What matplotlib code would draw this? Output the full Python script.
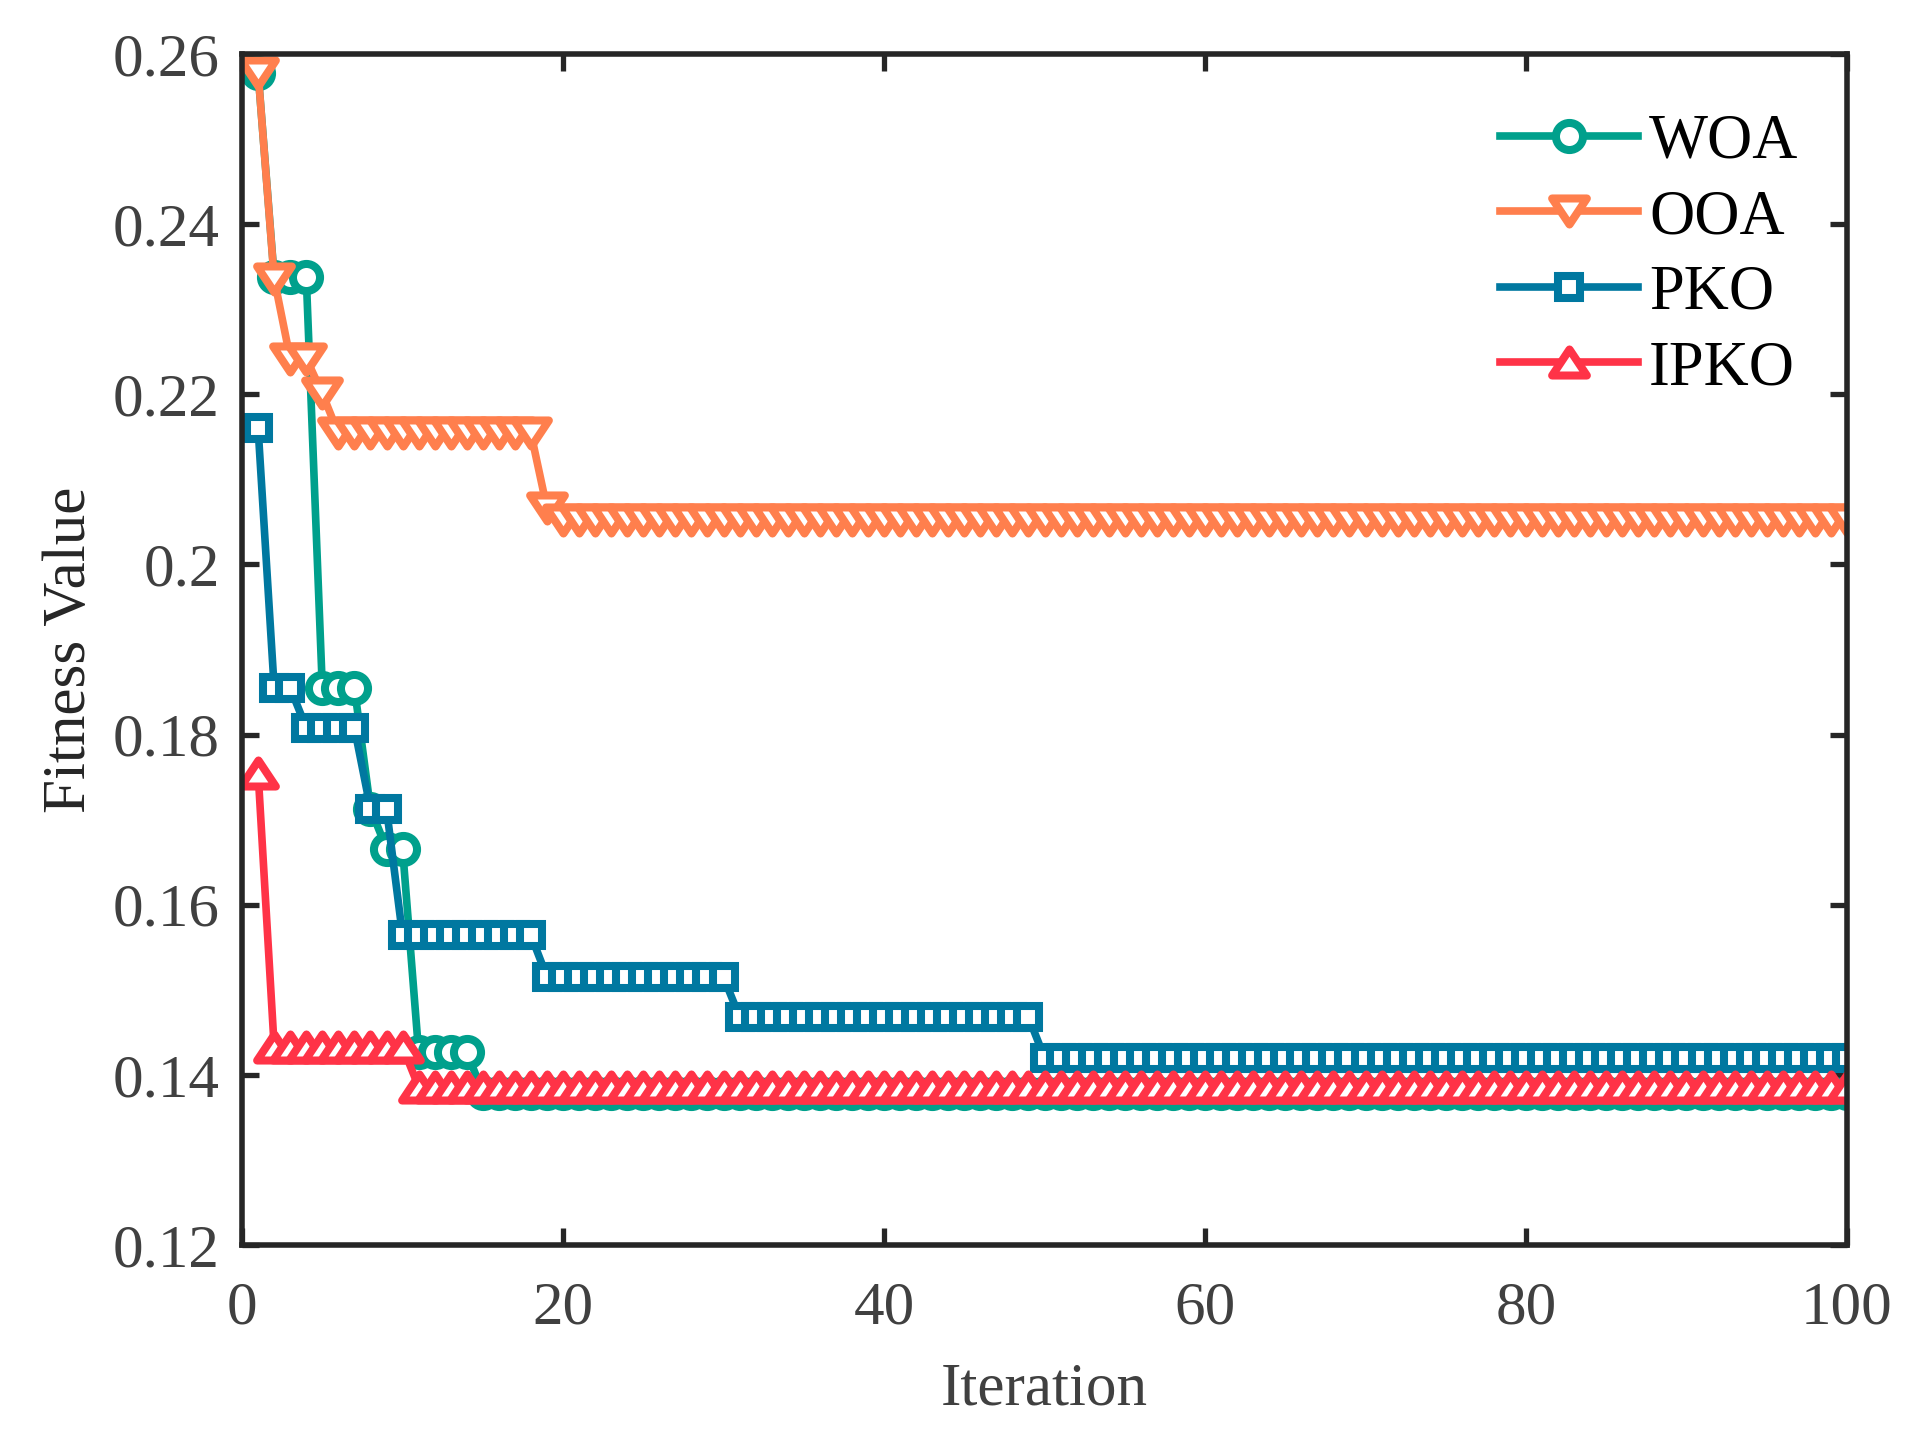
import numpy as np
import matplotlib
matplotlib.use("Agg")
import matplotlib.pyplot as plt
from matplotlib.path import Path

# iterations 1..100, step curves read as (level, number of iterations)
iterations = np.arange(1, 101)

woa_levels = [0.2578, 0.2338, 0.1855, 0.1713, 0.1666, 0.1427, 0.1379]
woa_runs = [1, 3, 3, 1, 2, 4, 86]

ooa_levels = [0.2578, 0.2336, 0.2242, 0.2201, 0.2154, 0.2066, 0.2052]
ooa_runs = [1, 1, 2, 1, 13, 1, 81]

pko_levels = [0.2160, 0.1855, 0.1808, 0.1713, 0.1564, 0.1515, 0.1468, 0.1420]
pko_runs = [1, 2, 4, 2, 9, 12, 19, 51]

ipko_levels = [0.1755, 0.1433, 0.1386]
ipko_runs = [1, 9, 90]

names = ["WOA", "OOA", "PKO", "IPKO"]
colors = ["#00A08C", "#FF7F4D", "#0078A0", "#FF3347"]

y_ticks = [0.12, 0.14, 0.16, 0.18, 0.2, 0.22, 0.24, 0.26]
y_tick_labels = ["0.12", "0.14", "0.16", "0.18", "0.2", "0.22", "0.24", "0.26"]
x_ticks = [0, 20, 40, 60, 80, 100]

woa = np.repeat(woa_levels, woa_runs)
ooa = np.repeat(ooa_levels, ooa_runs)
pko = np.repeat(pko_levels, pko_runs)
ipko = np.repeat(ipko_levels, ipko_runs)

# wide triangles like MATLAB's
tri_down = Path([(-1, 0.75), (1, 0.75), (0, -0.75), (-1, 0.75)],
                [Path.MOVETO, Path.LINETO, Path.LINETO, Path.CLOSEPOLY])
tri_up = Path([(-1, -0.75), (1, -0.75), (0, 0.75), (-1, -0.75)],
              [Path.MOVETO, Path.LINETO, Path.LINETO, Path.CLOSEPOLY])

plt.rcParams['font.family'] = ['Liberation Serif', 'DejaVu Serif']

fig = plt.figure(figsize=(19.12, 14.32), dpi=100)
ax = fig.add_axes([0.1266, 0.1306, 0.8394, 0.8317])

lw = 5.5
mew = 5.8
series = [woa, ooa, pko, ipko]
markers = ["o", tri_down, "s", tri_up]
sizes = [19.5, 25, 15.5, 25]
for vals, name, c, m, ms in zip(series, names, colors, markers, sizes):
    ax.plot(iterations, vals, color=c, lw=lw, marker=m, ms=ms, mew=mew,
            mfc="white", mec=c, label=name)

ax.set_xlim(0, 100)
ax.set_ylim(0.12, 0.26)
ax.set_xticks(x_ticks)
ax.set_yticks(y_ticks)
ax.set_yticklabels(y_tick_labels)

for s in ax.spines.values():
    s.set_linewidth(4)
    s.set_color("#262626")

ax.tick_params(direction="in", length=12, width=3.8, color="#262626",
               labelcolor="#404040", labelsize=44, top=True, right=True)
ax.tick_params(axis="x", pad=26)
ax.tick_params(axis="y", pad=16)

ax.set_xlabel("Iteration", fontsize=44, color="#404040")
ax.set_ylabel("Fitness Value", fontsize=44, color="#262626")
ax.xaxis.set_label_coords(0.5, -0.098)
ax.yaxis.set_label_coords(-0.0897, 0.5)

ax.legend(loc="upper left", bbox_to_anchor=(0.784, 0.950), frameon=False,
          fontsize=45, handlelength=2.2, handletextpad=0.18, labelspacing=0.28,
          borderpad=0, borderaxespad=0, numpoints=1)

plt.savefig("out.png", dpi=100)
